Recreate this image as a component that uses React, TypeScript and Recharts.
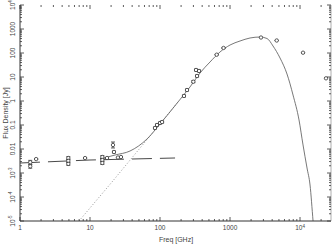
import React from 'react';
import { ComposedChart, Line, Scatter, XAxis, YAxis, ErrorBar } from 'recharts';

// ---- tick definitions ----
const xMajorTicks = [1, 10, 100, 1000, 10000];
const xMajorLabels: [string, string][] = [['1', ''], ['10', ''], ['100', ''], ['1000', ''], ['10', '4']];
const yMajorTicks = [1e-5, 1e-4, 1e-3, 0.01, 0.1, 1, 10, 100, 1000, 1e4];
const yMajorLabels: [string, string][] = [
  ['10', '-5'], ['10', '-4'], ['10', '-3'], ['0.01', ''], ['0.1', ''],
  ['1', ''], ['10', ''], ['100', ''], ['1000', ''], ['10', '4'],
];
const minorMultipliers = [2, 3, 4, 5, 6, 7, 8, 9];

// ---- model components ----
const syncFreq = [1, 10, 164];
const syncFlux = [0.00261, 0.00348, 0.00422];

const dustFreq = [6.96, 20.6, 61.1, 180.7];
const dustFlux = [1e-5, 4.22e-4, 0.0196, 0.909];

const totalFreq = [13.9, 22.8, 37.3, 65.2, 100, 180.7, 268, 373, 518, 719, 1000, 1389, 1931, 2683, 3378, 4113, 5179, 6518, 7943, 9678, 11040, 12590, 13900, 15350, 16370];
const totalFlux = [0.00383, 0.00562, 0.00825, 0.0261, 0.11, 0.909, 3.83, 14.7, 42.2, 110, 215, 316, 422, 464, 402, 196, 61.9, 13.3, 1.78, 0.162, 0.0147, 0.00162, 3.16e-4, 1e-5, 1e-6];

// ---- observations ----
const obsFreq = [1.4, 1.4, 1.7, 4.9, 4.9, 4.9, 8.5, 15, 15, 15, 17.5, 21.3, 22, 25.1, 27.7, 84.8, 90.6, 100, 107, 220, 243, 299, 327, 338, 361, 645, 808, 2770, 4645, 11040, 23500];
const obsFlux = [0.0028, 0.0019, 0.0038, 0.0042, 0.0032, 0.0024, 0.0042, 0.00464, 0.00348, 0.00261, 0.00422, 0.0147, 0.0075, 0.00443, 0.00464, 0.075, 0.1, 0.121, 0.133, 1.62, 2.87, 6.37, 19.6, 11.0, 17.8, 85, 162, 442, 332, 103, 8.8];
const obsErrRel = [0.2, 0.2, 0, 0.15, 0.15, 0.15, 0, 0.15, 0.15, 0.15, 0, 0.33, 0.1, 0, 0, 0.1, 0.1, 0.1, 0.1, 0.1, 0.1, 0.1, 0.1, 0.1, 0.1, 0, 0, 0, 0, 0, 0];

const zip = (fs: number[], vs: number[]) => fs.map((f, i) => ({ f, v: vs[i] }));
const syncData = zip(syncFreq, syncFlux);
const dustData = zip(dustFreq, dustFlux);
const totalData = zip(totalFreq, totalFlux);
const obsData = obsFreq.map((f, i) => {
  const v = obsFlux[i];
  const r = obsErrRel[i];
  return { f, v, err: [v - v / (1 + r), v * r] };
});

const withMinor = (majors: number[]) => {
  const out: number[] = [];
  majors.forEach((m, i) => {
    out.push(m);
    if (i < majors.length - 1) minorMultipliers.forEach((k) => out.push(m * k));
  });
  return out;
};
const xAllTicks = [...withMinor(xMajorTicks), 20000];
const yAllTicks = withMinor(yMajorTicks);

const majorIndex = (majors: number[], v: number) =>
  majors.findIndex((m) => Math.abs(m - v) / m < 1e-6);

const FONT = 'Liberation Sans, Arial, sans-serif';
const TICK_COLOR = '#333';
const TEXT_COLOR = '#444';

const Label2 = ({ base, sup, ...rest }: any) => (
  <text fontFamily={FONT} fontSize={6.5} fill={TEXT_COLOR} {...rest}>
    <tspan>{base}</tspan>
    {sup ? <tspan dy={-2.5} fontSize={4.5}>{sup}</tspan> : null}
  </text>
);

const XTickBottom = (props: any) => {
  const { x, y, payload } = props;
  const idx = majorIndex(xMajorTicks, payload.value);
  const major = idx >= 0;
  return (
    <g>
      <line x1={x} x2={x} y1={y} y2={y - (major ? 4 : 2)} stroke={TICK_COLOR} strokeWidth={0.8} />
      {major && <Label2 x={x} y={y + 9} textAnchor="middle" base={xMajorLabels[idx][0]} sup={xMajorLabels[idx][1]} />}
    </g>
  );
};

const XTickTop = (props: any) => {
  const { x, y, payload } = props;
  const major = majorIndex(xMajorTicks, payload.value) >= 0;
  return <line x1={x} x2={x} y1={y} y2={y + (major ? 4 : 2)} stroke={TICK_COLOR} strokeWidth={0.8} />;
};

const YTickLeft = (props: any) => {
  const { x, y, payload } = props;
  const idx = majorIndex(yMajorTicks, payload.value);
  const major = idx >= 0;
  const lx = 12;
  return (
    <g>
      <line x1={x} x2={x + (major ? 4 : 2)} y1={y} y2={y} stroke={TICK_COLOR} strokeWidth={0.8} />
      {major && (
        <Label2
          x={lx}
          y={y}
          textAnchor="middle"
          dominantBaseline="central"
          transform={`rotate(-90, ${lx}, ${y})`}
          base={yMajorLabels[idx][0]}
          sup={yMajorLabels[idx][1]}
        />
      )}
    </g>
  );
};

const YTickRight = (props: any) => {
  const { x, y, payload } = props;
  const major = majorIndex(yMajorTicks, payload.value) >= 0;
  return <line x1={x} x2={x - (major ? 4 : 2)} y1={y} y2={y} stroke={TICK_COLOR} strokeWidth={0.8} />;
};

const ObsShape = (props: any) => {
  const { cx, cy } = props;
  if (cx == null || cy == null) return null;
  return <circle cx={cx} cy={cy} r={1.7} fill="#fff" stroke="#333" strokeWidth={0.8} />;
};

export default function App() {
  return (
    <div style={{ position: 'absolute', left: 0, top: 0, width: 332, height: 246, background: '#fff' }}>
      <ComposedChart width={332} height={246} margin={{ top: 4, right: 0, bottom: 0, left: 0 }}>
        <XAxis
          xAxisId="bottom"
          dataKey="f"
          type="number"
          scale="log"
          domain={[1, 27700]}
          allowDataOverflow
          ticks={xAllTicks}
          interval={0}
          tick={<XTickBottom />}
          tickLine={false}
          tickSize={0}
          tickMargin={0}
          height={25}
          axisLine={{ stroke: '#333', strokeWidth: 1 }}
        />
        <XAxis
          xAxisId="top"
          orientation="top"
          dataKey="f"
          type="number"
          scale="log"
          domain={[1, 27700]}
          allowDataOverflow
          ticks={xAllTicks}
          interval={0}
          tick={<XTickTop />}
          tickLine={false}
          tickSize={0}
          tickMargin={0}
          height={1}
          axisLine={false}
        />
        <YAxis
          yAxisId="left"
          dataKey="v"
          type="number"
          scale="log"
          domain={[1e-5, 1e4]}
          allowDataOverflow
          ticks={yAllTicks}
          interval={0}
          tick={<YTickLeft />}
          tickLine={false}
          tickSize={0}
          tickMargin={0}
          width={20}
          axisLine={{ stroke: '#333', strokeWidth: 1 }}
        />
        <YAxis
          yAxisId="right"
          orientation="right"
          dataKey="v"
          type="number"
          scale="log"
          domain={[1e-5, 1e4]}
          allowDataOverflow
          ticks={yAllTicks}
          interval={0}
          tick={<YTickRight />}
          tickLine={false}
          tickSize={0}
          tickMargin={0}
          width={1}
          axisLine={{ stroke: '#999', strokeWidth: 0.8 }}
        />
        <Line
          xAxisId="top"
          yAxisId="right"
          data={syncData}
          dataKey="v"
          type="linear"
          stroke="none"
          dot={false}
          legendType="none"
          isAnimationActive={false}
        />
        <Line
          xAxisId="bottom"
          yAxisId="left"
          data={dustData}
          dataKey="v"
          type="linear"
          stroke="#888"
          strokeWidth={0.9}
          strokeDasharray="1 2"
          dot={false}
          isAnimationActive={false}
        />
        <Line
          xAxisId="bottom"
          yAxisId="left"
          data={syncData}
          dataKey="v"
          type="linear"
          stroke="#333"
          strokeWidth={0.9}
          strokeDasharray="20 8"
          dot={false}
          isAnimationActive={false}
        />
        <Line
          xAxisId="bottom"
          yAxisId="left"
          data={totalData}
          dataKey="v"
          type="monotone"
          stroke="#555"
          strokeWidth={0.8}
          dot={false}
          isAnimationActive={false}
        />
        <Scatter
          xAxisId="bottom"
          yAxisId="left"
          data={obsData}
          dataKey="v"
          shape={<ObsShape />}
          isAnimationActive={false}
        >
          <ErrorBar dataKey="err" direction="y" width={2} stroke="#333" strokeWidth={0.8} />
        </Scatter>
        <text x={176} y={242} textAnchor="middle" fontFamily={FONT} fontSize={7} fill={TEXT_COLOR}>
          Freq [GHz]
        </text>
        <text
          x={5}
          y={113}
          textAnchor="middle"
          dominantBaseline="central"
          transform="rotate(-90, 5, 113)"
          fontFamily={FONT}
          fontSize={7}
          fill={TEXT_COLOR}
        >
          Flux Density [Jy]
        </text>
      </ComposedChart>
    </div>
  );
}
